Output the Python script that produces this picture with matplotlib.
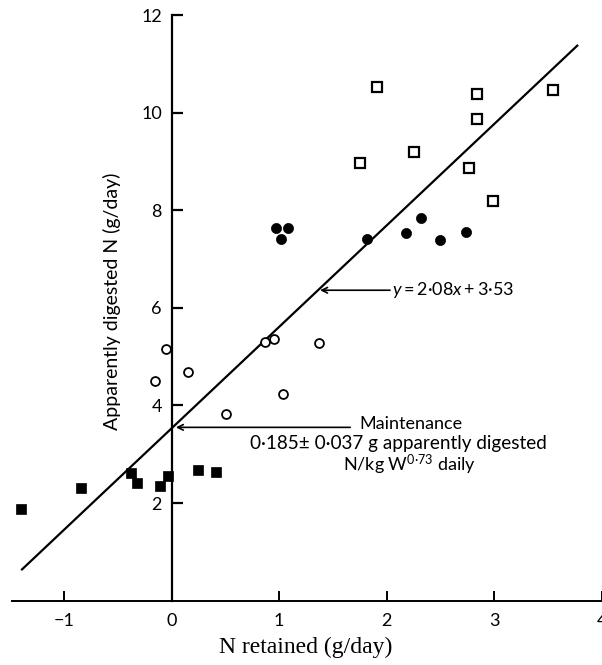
import matplotlib
matplotlib.use("Agg")
import matplotlib.pyplot as plt
import numpy as np

# ---- data ----
open_sq_x = [1.91, 2.84, 3.54, 2.84, 2.25, 1.75, 2.76, 2.99]
open_sq_y = [10.53, 10.38, 10.46, 9.86, 9.20, 8.96, 8.86, 8.19]
filled_circ_x = [0.97, 1.08, 1.02, 1.82, 2.32, 2.18, 2.49, 2.74]
filled_circ_y = [7.63, 7.63, 7.41, 7.40, 7.83, 7.54, 7.39, 7.56]
open_circ_x = [-0.055, -0.15, 0.15, 0.51, 0.87, 0.95, 1.04, 1.37]
open_circ_y = [5.16, 4.51, 4.68, 3.82, 5.29, 5.36, 4.23, 5.28]
filled_sq_x = [-1.40, -0.845, -0.38, -0.32, -0.11, -0.036, 0.25, 0.41]
filled_sq_y = [1.87, 2.31, 2.62, 2.42, 2.35, 2.56, 2.68, 2.63]

slope = 2.08
intercept = 3.53
line_x_range = [-1.39, 3.77]

x_ticks = [-1, 0, 1, 2, 3, 4]
x_ticklabels = ["\u22121", "0", "1", "2", "3", "4"]
y_ticks = [2, 4, 6, 8, 10, 12]
y_ticklabels = ["2", "4", "6", "8", "10", "12"]

plt.rcParams['font.family'] = ['Lato', 'DejaVu Sans']
plt.rcParams['mathtext.fontset'] = 'custom'
plt.rcParams['mathtext.rm'] = 'Lato'
plt.rcParams['mathtext.it'] = 'Lato:italic'

fig = plt.figure(figsize=(6.02, 6.65), dpi=100)
ax = fig.add_axes([12/602, (665-600.6)/665, 590/602, 585.6/665])
ax.set_xlim(-1.483, 4.0)
ax.set_ylim(0, 12)

for s in ['top', 'right']:
    ax.spines[s].set_visible(False)
ax.spines['left'].set_position(('data', 0))
ax.spines['left'].set_linewidth(1.6)
ax.spines['bottom'].set_linewidth(1.4)

ax.set_xticks(x_ticks)
ax.set_xticklabels(x_ticklabels)
ax.set_yticks(y_ticks)
ax.set_yticklabels(y_ticklabels)
ax.tick_params(axis='x', direction='in', length=7, width=1.4, pad=9, labelsize=13)
ax.tick_params(axis='y', direction='in', length=8, width=1.6, pad=7, labelsize=13)

# regression line
lx = np.array(line_x_range)
ax.plot(lx, slope * lx + intercept, color='black', lw=1.6, clip_on=False)

ax.plot(open_sq_x, open_sq_y, ls='none', marker='s', ms=6.5, mfc='white',
        mec='black', mew=1.6, clip_on=False)
ax.plot(filled_circ_x, filled_circ_y, ls='none', marker='o', ms=7.3,
        mfc='black', mec='black', mew=0.5, clip_on=False)
ax.plot(open_circ_x, open_circ_y, ls='none', marker='o', ms=6.4, mfc='white',
        mec='black', mew=1.3, clip_on=False)
ax.plot(filled_sq_x, filled_sq_y, ls='none', marker='s', ms=7.8,
        mfc='black', mec='black', mew=0.5, clip_on=False)

# annotations
ax.annotate('', xy=(1.38, 6.36), xytext=(2.03, 6.36),
            arrowprops=dict(arrowstyle='->', color='black', lw=1.2,
                            shrinkA=0, shrinkB=0))
ax.text(2.05, 6.36, r'$\mathit{y}=\mathrm{2·08}\mathit{x}+\mathrm{3·53}$',
        fontsize=13, ha='left', va='center')

ax.annotate('', xy=(0.04, 3.55), xytext=(1.66, 3.55),
            arrowprops=dict(arrowstyle='->', color='black', lw=1.2,
                            shrinkA=0, shrinkB=0))
ax.text(2.225, 3.62, 'Maintenance', fontsize=13, ha='center', va='center')
ax.text(2.104, 3.21, '0·185± 0·037 g apparently digested', fontsize=13.6,
        ha='center', va='center')
ax.text(2.206, 2.78, r'N/kg W$^{\mathregular{0·73}}$ daily', fontsize=13,
        ha='center', va='center')

ax.set_ylabel('Apparently digested N (g/day)', fontsize=14)
ax.yaxis.set_label_coords((121-12)/590, (600.6-301)/585.6)
ax.set_xlabel('N retained (g/day)', fontsize=17, family=['Liberation Serif'])
ax.xaxis.set_label_coords((306-12)/590, (600.6-637)/585.6)

fig.savefig('out.png', dpi=100)
